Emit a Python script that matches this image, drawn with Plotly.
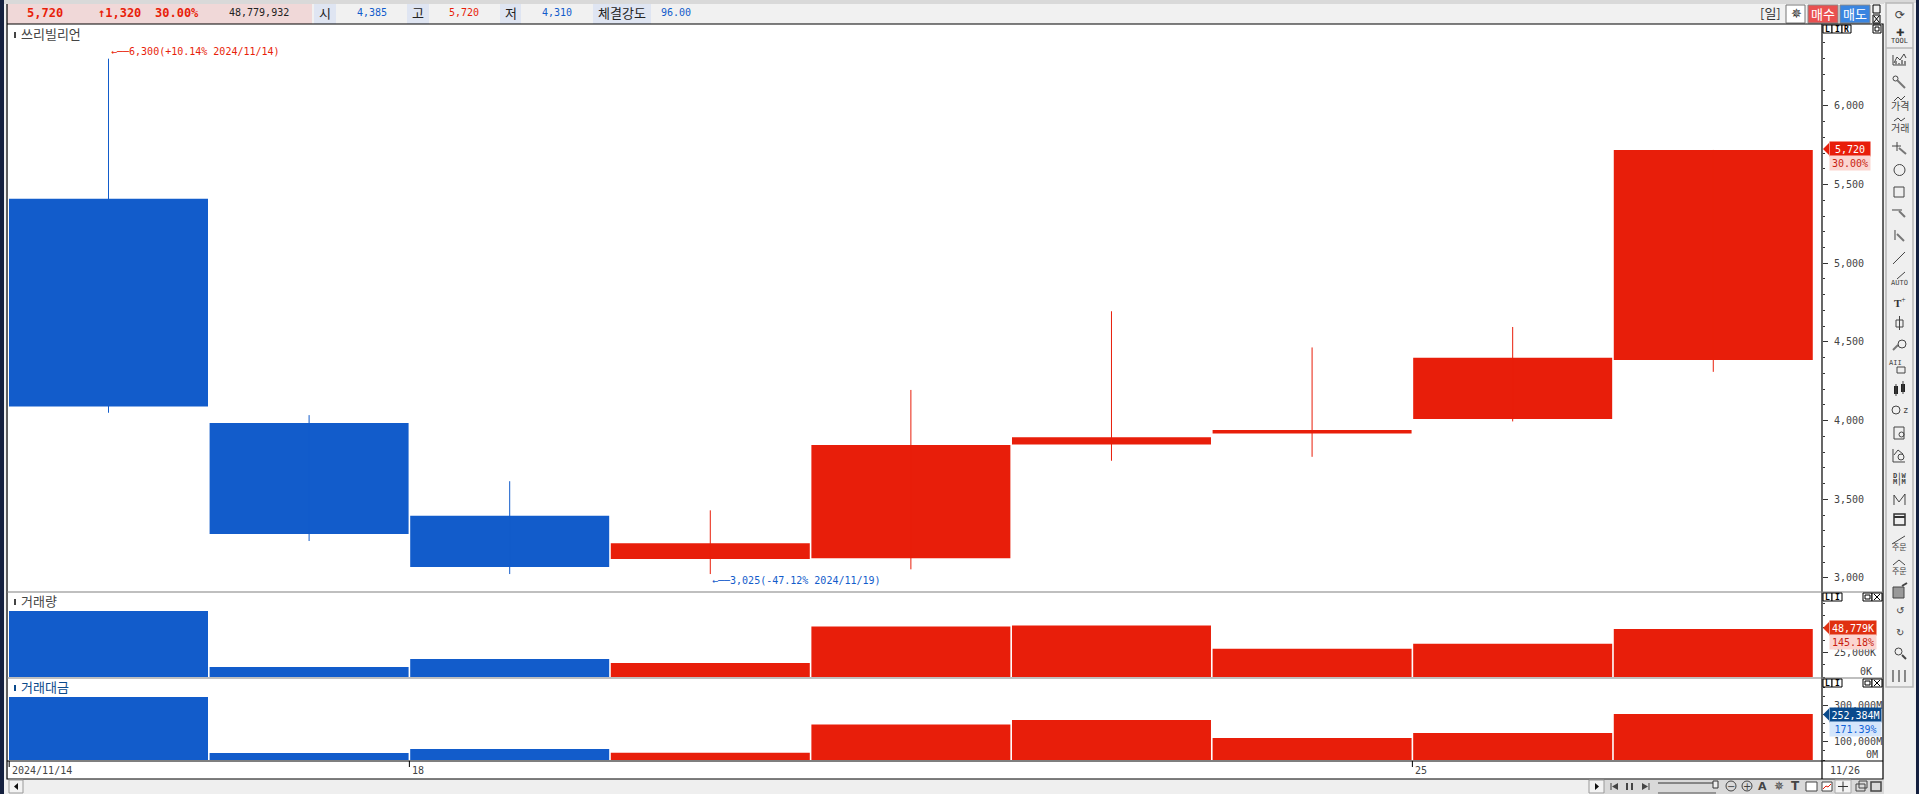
import plotly.graph_objects as go

W, H = 1919, 794

# ---- data ----
open_ = [5410, 3985, 3395, 3120, 3125, 3848, 3918, 4011, 4385]
close = [4090, 3280, 3070, 3220, 3845, 3895, 3941, 4400, 5720]
high = [6300, 4035, 3615, 3430, 4195, 4695, 4465, 4595, 5720]
low = [4050, 3235, 3025, 3025, 3055, 3745, 3770, 3995, 4310]
volume = [67000, 10200, 18300, 14200, 51200, 52400, 28800, 33700, 48779]
amount = [345000, 38000, 60000, 40000, 195000, 219000, 121000, 148000, 252384]
price_ticks = [3000, 3500, 4000, 4500, 5000, 5500, 6000]
vol_ticks = [25000]
vol_tick_text = ["25,000K"]
amt_ticks = [100000, 300000]
amt_tick_text = ["100,000M", "300,000M"]
date_tick_pos = [-0.495, 1.5, 6.5]
date_tick_text = ["2024/11/14", "18", "25"]

RED, BLUE = "#e81e0a", "#125ccb"
MONO = "DejaVu Sans Mono"
KR = "Noto Sans CJK KR"
GREY = "#444444"
idx = list(range(len(close)))
colors = [RED if c >= o else BLUE for o, c in zip(open_, close)]

fx = lambda p: p / W
fy = lambda p: 1 - p / H


def dom(top, bottom):
    return [fy(bottom), fy(top)]


fig = go.Figure()
fig.add_trace(go.Bar(x=idx, y=[abs(c - o) for o, c in zip(open_, close)], base=[min(o, c) for o, c in zip(open_, close)],
                     width=0.992, marker=dict(color=colors, line_width=0), xaxis="x", yaxis="y", hoverinfo="skip"))
for i in idx:
    fig.add_trace(go.Scatter(x=[i, i], y=[low[i], high[i]], mode="lines", line=dict(color=colors[i], width=1),
                             xaxis="x", yaxis="y", hoverinfo="skip"))
fig.add_trace(go.Bar(x=idx, y=volume, width=0.992, marker=dict(color=colors, line_width=0), xaxis="x2", yaxis="y2", hoverinfo="skip"))
fig.add_trace(go.Bar(x=idx, y=amount, width=0.992, marker=dict(color=colors, line_width=0), xaxis="x3", yaxis="y3", hoverinfo="skip"))

shapes, annos = [], []


def rect(x0, y0, x1, y1, fill=None, line=None, lw=1, layer="below"):
    shapes.append(dict(type="rect", xref="paper", yref="paper", x0=fx(x0), x1=fx(x1), y0=fy(y0), y1=fy(y1),
                       fillcolor=fill or "rgba(0,0,0,0)", line=dict(color=line or "rgba(0,0,0,0)", width=lw if line else 0), layer=layer))


def circ(x0, y0, x1, y1, line=GREY, lw=1):
    shapes.append(dict(type="circle", xref="paper", yref="paper", x0=fx(x0), x1=fx(x1), y0=fy(y0), y1=fy(y1),
                       line=dict(color=line, width=lw), layer="above"))


def poly(pts, line=GREY, lw=1, fill=None, close_=False):
    d = "M " + " L ".join(f"{fx(a):.5f},{fy(b):.5f}" for a, b in pts) + (" Z" if close_ else "")
    shapes.append(dict(type="path", path=d, xref="paper", yref="paper", fillcolor=fill or "rgba(0,0,0,0)",
                       line=dict(color=line, width=lw if line else 0), layer="above"))


def text(x, y, s, color=GREY, size=10, font=MONO, anchor="center", **kw):
    annos.append(dict(xref="paper", yref="paper", x=fx(x), y=fy(y), text=s, showarrow=False, xanchor=anchor, yanchor="middle",
                      font=dict(family=font, size=size, color=color), borderpad=0, **kw))


# ---- window chrome ----
rect(0, 0, 4, H, fill="#14203f")
rect(1916, 0, W, H, fill="#14203f")
rect(4, 0, 1916, 4, fill="#d9d9d9")
rect(5, 4, 1884, 24, fill="#f1f1f1")
rect(7, 4, 312, 24, fill="#f0d8d8")
rect(314, 4, 336, 24, fill="#dfe5f2")
rect(407, 4, 429, 24, fill="#dfe5f2")
rect(500, 4, 521, 24, fill="#dfe5f2")
rect(593, 4, 651, 24, fill="#dfe5f2")
rect(1884, 3, 1916, H, fill="#f0f0f0")
rect(1886, 3, 1913, 687, fill="#efefef", line="#b8b8b8", lw=1.5)
poly([(1886, 48), (1913, 48)], line="#b8b8b8", lw=1.5)

# header
text(45, 13, "<b>5,720</b>", RED, 12)
text(119, 13, "<b>↑1,320</b>", RED, 12)
text(177, 13, "<b>30.00%</b>", RED, 12)
text(259, 13, "48,779,932", "#222222", 10)
text(325, 13, "시", "#222222", 13, KR)
text(372, 13, "4,385", BLUE, 10)
text(418, 13, "고", "#222222", 13, KR)
text(464, 13, "5,720", RED, 10)
text(511, 13, "저", "#222222", 13, KR)
text(557, 13, "4,310", BLUE, 10)
text(622, 13, "체결강도", "#222222", 13, KR)
text(676, 13, "96.00", BLUE, 10)
text(1770, 13, "[일]", "#333333", 13, KR)
rect(1786, 5, 1805, 23, fill="#ffffff", line="#777777", layer="above")
text(1796, 14, "✵", "#333333", 13, "DejaVu Sans")
rect(1808, 5, 1838, 23, fill="#e95050", line="#888888", layer="above")
text(1823, 14, "매수", "#ffffff", 13, KR)
rect(1840, 5, 1870, 23, fill="#3a85e0", line="#888888", layer="above")
text(1855, 14, "매도", "#ffffff", 13, KR)
rect(1873, 5, 1880, 13, line="#000000", layer="above")
rect(1873, 15, 1880, 23, line="#000000", layer="above")
poly([(1874, 16), (1879, 22)], line="#000000")
poly([(1879, 16), (1874, 22)], line="#000000")

# frame lines
rect(8, 24, 1883, 779, fill="#ffffff")
poly([(7, 4), (7, 779), (1883, 779), (1883, 24), (7, 24)], line="#000000", lw=1.2)
poly([(1822, 24), (1822, 779)], line="#000000", lw=1.2)
poly([(7, 592), (1883, 592)], line="#808080", lw=1.2)
poly([(7, 678), (1883, 678)], line="#808080", lw=1.2)
poly([(7, 761), (1883, 761)], line="#000000", lw=1.2)

# panel titles
for y, s, c in [(35, "쓰리빌리언", GREY), (602, "거래량", GREY), (688, "거래대금", "#0a4a8c")]:
    rect(14, y - 3, 16, y + 3, fill=c, layer="above")
    text(20, y - 1.5, s, c, 13, KR, "left")

# L I R buttons
for x0, x1, s in [(1823, 1832, "L"), (1832, 1842, "I"), (1842, 1851, "R")]:
    rect(x0, 25, x1, 33, fill="#ffffff", line="#000000", layer="above")
    text((x0 + x1) / 2, 29, f"<b>{s}</b>", "#000000", 8)
rect(1873, 25, 1881, 33, fill="#ffffff", line="#000000", layer="above")
rect(1875, 27, 1879, 31, line="#000000", layer="above")
for top in (593, 679):
    for x0, x1, s in [(1823, 1832, "L"), (1832, 1842, "I")]:
        rect(x0, top, x1, top + 8, fill="#ffffff", line="#000000", layer="above")
        text((x0 + x1) / 2, top + 4, f"<b>{s}</b>", "#000000", 8)
    rect(1863, top, 1872, top + 8, fill="#ffffff", line="#000000", layer="above")
    rect(1865, top + 2, 1870, top + 6, line="#000000", layer="above")
    rect(1872, top, 1882, top + 8, fill="#ffffff", line="#000000", layer="above")
    poly([(1874, top + 1), (1880, top + 7)], line="#000000")
    poly([(1880, top + 1), (1874, top + 7)], line="#000000")

# high / low notes, tied to the data
annos.append(dict(xref="x", yref="paper", x=0, y=fy(51), text="←──6,300(+10.14% 2024/11/14)", showarrow=False, xanchor="left",
                  yanchor="middle", font=dict(family=MONO, size=10, color=RED), xshift=0))
annos.append(dict(xref="x", yref="paper", x=3, y=fy(580), text="←──3,025(-47.12% 2024/11/19)", showarrow=False, xanchor="left",
                  yanchor="middle", font=dict(family=MONO, size=10, color=BLUE), xshift=0))

# last-value tags
def tag(x1, y, s, bg, fg):
    annos.append(dict(xref="paper", yref="paper", x=fx(1829), y=fy(y), text=s, showarrow=False, xanchor="left", yanchor="middle",
                      width=x1 - 1829, height=14, bgcolor=bg, align="center", borderpad=0,
                      font=dict(family=MONO, size=10, color=fg)))


for y, x1, s1, bg1, s2, bg2, fg2 in [
    (149, 1869, "5,720", RED, "30.00%", "#fbd5d0", "#c81e10"),
    (628, 1875, "48,779K", "#e03010", "145.18%", "#fbd5d0", "#c81e10"),
    (714.5, 1880, "252,384M", "#0a4a8c", "171.39%", "#d5e6fb", "#1264d8"),
]:
    tag(x1, y, s1, bg1, "#ffffff")
    tag(x1, y + 14, s2, bg2, fg2)
    poly([(1823, y), (1829, y - 6), (1829, y + 6)], line=None, fill=bg1, close_=True)

text(1873, 671, "0K", GREY, 10, anchor="right")
text(1879, 754, "0M", GREY, 10, anchor="right")

# date axis labels
for p, s in zip(date_tick_pos, date_tick_text):
    annos.append(dict(xref="x3", yref="paper", x=p, y=fy(770), text=s, showarrow=False, xanchor="left", yanchor="middle",
                      xshift=1, font=dict(family=MONO, size=10, color=GREY)))
text(1829, 770, "11/26", GREY, 10, anchor="left")

# bottom strip
rect(8, 780, 1604, 794, fill="#efefef")
rect(1604, 780, 1884, 794, fill="#d9d9d9")
rect(9, 780, 23, 793, fill="#f3f3f3", line="#999999", layer="above")
rect(1589, 780, 1604, 793, fill="#f3f3f3", line="#999999", layer="above")
poly([(14, 786.5), (18, 783), (18, 790)], line=None, fill="#111111", close_=True)
poly([(1599, 786.5), (1595, 783), (1595, 790)], line=None, fill="#111111", close_=True)
poly([(1611, 783), (1611, 790)])
poly([(1612, 786.5), (1618, 783), (1618, 790)], line=None, fill=GREY, close_=True)
rect(1626, 783, 1628, 790, fill=GREY, layer="above")
rect(1631, 783, 1633, 790, fill=GREY, layer="above")
poly([(1649, 783), (1649, 790)])
poly([(1648, 786.5), (1642, 783), (1642, 790)], line=None, fill=GREY, close_=True)
poly([(1658, 783), (1716, 783)], line="#333333")
poly([(1658, 793), (1716, 793)], line="#555555")
rect(1713, 781, 1718, 788, fill="#eeeeee", line="#333333", layer="above")
for cx, s in [(1731, "−"), (1747, "+")]:
    circ(cx - 5, 781, cx + 5, 791)
    text(cx, 786, s, GREY, 10, "DejaVu Sans")
text(1762, 786, "<b>A</b>", GREY, 11, "DejaVu Sans")
text(1779, 786, "✵", GREY, 12, "DejaVu Sans")
text(1795, 786, "<b>T</b>", GREY, 12, "DejaVu Sans")
rect(1806, 782, 1817, 791, fill="#ffffff", line=GREY, layer="above")
rect(1822, 782, 1832, 791, fill="#ffffff", line=GREY, layer="above")
poly([(1823, 789), (1826, 786), (1828, 787), (1831, 784)], line=RED)
rect(1835, 780, 1851, 793, fill="#f3f3f3", line="#aaaaaa", layer="above")
poly([(1838, 786.5), (1848, 786.5)], line="#333333")
poly([(1843, 781.5), (1843, 791.5)], line="#333333")
rect(1856, 784, 1865, 791, line=GREY, layer="above")
rect(1859, 781, 1867, 788, line=GREY, layer="above")
rect(1871, 782, 1881, 791, line=GREY, lw=1.5, layer="above")

# side toolbar
X = 1899.5
text(X, 15, "⟳", GREY, 12, "DejaVu Sans")
text(X, 33, "✚", "#333333", 10, "DejaVu Sans")
text(X, 41, "TOOL", "#333333", 7)
poly([(1893, 55), (1893, 65), (1906, 65)])
poly([(1894, 63), (1897, 57), (1900, 60), (1904, 54), (1906, 58)])
for bx, by in [(1896, 61), (1899, 63), (1902, 60), (1905, 61)]:
    poly([(bx, by), (bx, 65)], line="#888888", lw=2)
circ(1893, 76, 1898, 81)
poly([(1897, 80), (1905, 88)], lw=2, line="#777777")
poly([(1894, 101), (1898, 97), (1901, 100), (1905, 96)])
text(X, 106, "가격", GREY, 10, KR)
poly([(1894, 121), (1898, 118), (1901, 121), (1905, 118)])
text(X, 128, "거래", GREY, 10, KR)
poly([(1892, 146), (1901, 146)]); poly([(1897, 142), (1897, 151)]); poly([(1899, 148), (1906, 154)], lw=2, line="#777777")
circ(1894, 164.5, 1905, 175.5)
rect(1894, 187, 1904, 197, line=GREY, layer="above")
poly([(1892, 210), (1902, 210)]); poly([(1899, 211), (1905, 217)], lw=2, line="#777777")
poly([(1895, 230), (1895, 240)]); poly([(1897, 234), (1904, 241)], lw=2, line="#777777")
poly([(1893, 264), (1905, 252)])
poly([(1897, 279), (1905, 272)])
text(X, 283, "AUTO", GREY, 7)
text(X, 302, "<b>T</b><sup>+</sup>", "#333333", 11, "Liberation Serif")
poly([(1899.5, 316), (1899.5, 330)]); rect(1896, 320, 1903, 327, line=GREY, layer="above")
poly([(1893, 350), (1898, 345)], lw=2, line="#777777"); circ(1898, 340, 1906, 348)
text(1895, 363, "AII", GREY, 7); rect(1897, 367, 1905, 373, line=GREY, layer="above")
rect(1894, 386, 1898, 394, fill="#222222", layer="above"); rect(1901, 384, 1905, 392, fill="#222222", layer="above")
poly([(1896, 384), (1896, 396)]); poly([(1903, 381), (1903, 394)])
circ(1892, 406, 1900, 414); text(1905, 410, "z", GREY, 9)
rect(1894, 427, 1904, 439, line=GREY, layer="above"); circ(1899, 432, 1904, 437)
poly([(1893, 449), (1893, 462), (1905, 462)]); poly([(1894, 455), (1898, 450), (1903, 454)]); circ(1898, 454, 1904, 460)
text(X, 476, "<b>D|W</b>", GREY, 7); text(X, 482, "<b>M|M</b>", GREY, 7)
poly([(1894, 505), (1894, 495), (1899, 502), (1905, 494), (1905, 505)])
rect(1894, 514, 1905, 525, line="#333333", lw=1.5, layer="above")
poly([(1894, 517), (1905, 517)], line="#333333", lw=2)
poly([(1892, 544), (1905, 536)]); text(X, 546, "주문", GREY, 8, KR)
poly([(1893, 565), (1899, 560), (1905, 565)]); text(X, 570, "주문", GREY, 8, KR)
rect(1893, 587, 1904, 598, fill="#999999", line=GREY, layer="above")
poly([(1902, 586), (1907, 583)], lw=2)
text(X, 610, "↺", GREY, 10, "DejaVu Sans")
text(X, 632, "↻", GREY, 10, "DejaVu Sans")
circ(1895, 648, 1902, 655); poly([(1902, 655), (1906, 659)], lw=2)
for bx in (1893, 1899, 1905):
    poly([(bx, 670), (bx, 682)], line=GREY, lw=1.2)

xrange_ = [-0.501, 8.542]
hidden_x = dict(range=xrange_, showgrid=False, zeroline=False, showticklabels=False, fixedrange=True, automargin=False)
tickfont = dict(family=MONO, size=10, color=GREY)


def yax(top, bottom, rng, vals, txt, minor_step, major_len=5):
    return dict(domain=dom(top, bottom), range=rng, side="right", showgrid=False, zeroline=False, showline=False, automargin=False,
                tickmode="array", tickvals=vals, ticktext=txt, ticks="outside", ticklen=major_len, tickcolor="#333333",
                tickfont=tickfont, ticklabelstandoff=4,
                minor=dict(dtick=minor_step, tick0=0, ticks="outside", ticklen=2, tickcolor="#333333", showgrid=False),
                fixedrange=True)


fig.update_layout(
    width=W, height=H, autosize=False, margin=dict(l=0, r=0, t=0, b=0, pad=0, autoexpand=False), showlegend=False, barmode="overlay",
    paper_bgcolor="#f0f0f0", plot_bgcolor="rgba(0,0,0,0)",
    xaxis=dict(domain=[fx(8), fx(1822)], anchor="y", **hidden_x),
    xaxis2=dict(domain=[fx(8), fx(1822)], anchor="y2", **hidden_x),
    xaxis3=dict(domain=[fx(8), fx(1822)], anchor="y3", range=xrange_, showgrid=False, zeroline=False, showticklabels=False,
                fixedrange=True, automargin=False),
    yaxis=yax(25, 592, [2911, 6514], price_ticks, [f"{v:,}" for v in price_ticks], 100),
    yaxis2=yax(593, 677, [0, 85344], vol_ticks, vol_tick_text, 12500),
    yaxis3=yax(679, 760, [0, 444447], amt_ticks, amt_tick_text, 50000),
    shapes=shapes, annotations=annos,
)
for p in date_tick_pos:
    fig.add_shape(type="line", xref="x3", yref="paper", x0=p, x1=p, y0=fy(761), y1=fy(767), line=dict(color="#000000", width=1), layer="above")

fig.write_html("out.html", config={"displayModeBar": False},
               post_script="document.body.style.margin='0';document.body.style.overflow='hidden';")
